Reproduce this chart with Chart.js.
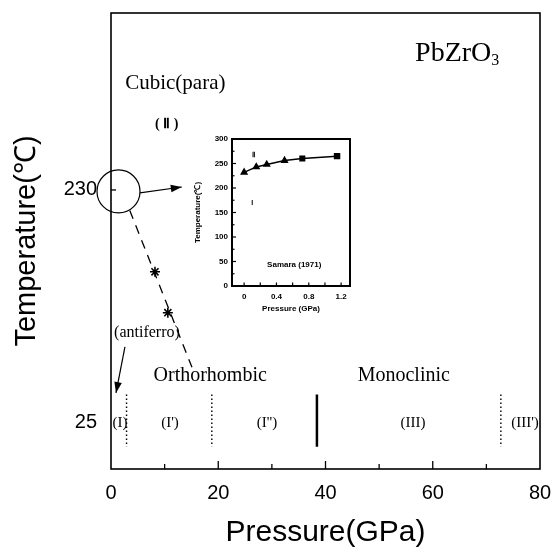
<!DOCTYPE html>
<html><head><meta charset="utf-8">
<script src="https://cdn.jsdelivr.net/npm/chart.js@4/dist/chart.umd.min.js"></script>
<style>
html,body{margin:0;padding:0;background:#fff;}
#wrap{position:relative;width:557px;height:551px;background:#fff;}
#main{position:absolute;left:0;top:0;}
#inset{position:absolute;left:190px;top:130px;}
</style></head><body>
<div id="wrap">
<canvas id="main" width="557" height="551"></canvas>
<canvas id="inset" width="170" height="190"></canvas>
</div>
<script>
// ---------- data ----------
const xTickValues = [0, 20, 40, 60, 80];
const yTickValues = [25, 230];
const boundaryPressures = [2.9, 18.8, 38.4, 72.7];
const boundaryKinds = ['dotted', 'dotted', 'solid', 'dotted'];
const boundaryTemps = [50, 4];
const dashLineP = [3.5, 15.1];
const dashLineT = [212, 74];
const starP = [8.2, 10.6];
const starT = [158, 122];
const circleP = [1.4];
const circleT = [228.7];
const arrowInsetP = [5.4, 13.2];
const arrowInsetT = [227.4, 232.6];
const arrowAntiP = [2.6, 0.93];
const arrowAntiT = [92, 51.4];
const phaseLabels = ['(I)', "(I')", "(I'')", '(III)', "(III')"];
const phaseLabelP = [1.7, 11, 29.1, 56.3, 77.2];
const phaseLabelT = 25;
const regionLabels = ['Cubic(para)', '( \u2161 )', '(antiferro)', 'Orthorhombic', 'Monoclinic'];
const regionLabelP = [12.0, 10.4, 6.7, 18.5, 54.6];
const regionLabelT = [324, 288, 104, 66.4, 66.4];
const titleText = 'PbZrO';
const titleSub = '3';
const titleP = 56.7;
const titleT = 350;

const insetPressure = [0, 0.15, 0.28, 0.5, 0.72, 1.15];
const insetTemp = [232, 243, 248, 256, 260, 265];
const insetYTicks = [0, 50, 100, 150, 200, 250, 300];
const insetXTicks = [0, 0.4, 0.8, 1.2];
const insetLabels = ['\u2161', 'I', 'Samara (1971)'];
const insetLabelP = [0.11, 0.10, 0.62];
const insetLabelT = [267, 169, 43];

// ---------- helpers ----------
const SERIF = '"Liberation Serif", "Times New Roman", serif';
const SANS = '"Liberation Sans", Arial, sans-serif';
const pts = (xs, ys) => xs.map((x, i) => ({x: x, y: ys[i]}));
const noPad = s => { s.paddingTop = 0; s.paddingBottom = 0; s.paddingLeft = 0; s.paddingRight = 0; };

const datasets = [];
boundaryPressures.forEach((p, i) => {
  datasets.push({
    data: pts([p, p], boundaryTemps),
    showLine: true, pointRadius: 0,
    borderColor: '#000',
    borderWidth: boundaryKinds[i] === 'solid' ? 2.5 : 1.4,
    borderDash: boundaryKinds[i] === 'solid' ? [] : [1.5, 2.5]
  });
});
datasets.push({data: pts(dashLineP, dashLineT), showLine: true, pointRadius: 0, borderColor: '#000', borderWidth: 1.3, borderDash: [9, 7]});
datasets.push({data: pts(starP, starT), showLine: false, pointStyle: 'star', pointRadius: 5, borderColor: '#000', borderWidth: 1.6, backgroundColor: '#000'});
datasets.push({data: pts(circleP, circleT), showLine: false, clip: false, pointStyle: 'circle', pointRadius: 21.5, borderColor: '#000', borderWidth: 1.2, backgroundColor: 'rgba(0,0,0,0)'});
datasets.push({data: pts(arrowInsetP, arrowInsetT), showLine: true, pointRadius: 0, borderColor: '#000', borderWidth: 1.2, arrow: true});
datasets.push({data: pts(arrowAntiP, arrowAntiT), showLine: true, pointRadius: 0, borderColor: '#000', borderWidth: 1.2, arrow: true});

const mainDecor = {
  id: 'mainDecor',
  afterDraw(chart) {
    const ctx = chart.ctx, a = chart.chartArea;
    const xs = chart.scales.x, ys = chart.scales.y;
    ctx.save();
    ctx.strokeStyle = '#000'; ctx.fillStyle = '#000';
    ctx.lineWidth = 1.6;
    ctx.strokeRect(a.left, a.top, a.right - a.left, a.bottom - a.top);
    // inward x ticks
    ctx.lineWidth = 1.3;
    for (let v = 10; v < 80; v += 10) {
      const px = xs.getPixelForValue(v);
      const len = v % 20 === 0 ? 8 : 5;
      ctx.beginPath(); ctx.moveTo(px, a.bottom); ctx.lineTo(px, a.bottom - len); ctx.stroke();
    }
    // inward y tick at 230
    const py = ys.getPixelForValue(230);
    ctx.beginPath(); ctx.moveTo(a.left, py); ctx.lineTo(a.left + 5, py); ctx.stroke();
    // arrowheads
    chart.data.datasets.forEach((ds, i) => {
      if (!ds.arrow) return;
      const d = chart.getDatasetMeta(i).data;
      const p1 = d[d.length - 2], p2 = d[d.length - 1];
      const ang = Math.atan2(p2.y - p1.y, p2.x - p1.x);
      const L = 11, W = 3.8;
      ctx.beginPath();
      ctx.moveTo(p2.x, p2.y);
      ctx.lineTo(p2.x - L * Math.cos(ang) + W * Math.sin(ang), p2.y - L * Math.sin(ang) - W * Math.cos(ang));
      ctx.lineTo(p2.x - L * Math.cos(ang) - W * Math.sin(ang), p2.y - L * Math.sin(ang) + W * Math.cos(ang));
      ctx.closePath(); ctx.fill();
    });
    // texts
    ctx.textAlign = 'center'; ctx.textBaseline = 'middle';
    const sizes = [21, 14, 16, 20, 20];
    regionLabels.forEach((t, i) => {
      ctx.font = (i === 1 ? 'bold ' : '') + sizes[i] + 'px ' + SERIF;
      ctx.fillText(t, xs.getPixelForValue(regionLabelP[i]), ys.getPixelForValue(regionLabelT[i]));
    });
    ctx.font = '15px ' + SERIF;
    phaseLabels.forEach((t, i) => {
      ctx.fillText(t, xs.getPixelForValue(phaseLabelP[i]), ys.getPixelForValue(phaseLabelT));
    });
    // title
    ctx.textAlign = 'left';
    ctx.font = '28px ' + SERIF;
    const tx = xs.getPixelForValue(titleP), ty = ys.getPixelForValue(titleT);
    ctx.fillText(titleText, tx, ty);
    const w = ctx.measureText(titleText).width;
    ctx.font = '16px ' + SERIF;
    ctx.fillText(titleSub, tx + w, ty + 7);
    ctx.restore();
  }
};

new Chart(document.getElementById('main'), {
  type: 'scatter',
  data: {datasets: datasets},
  options: {
    responsive: false, animation: false, devicePixelRatio: 1,
    layout: {autoPadding: false, padding: {left: 0, top: 13, right: 17, bottom: 0}},
    plugins: {legend: {display: false}, tooltip: {enabled: false}},
    elements: {line: {tension: 0}},
    scales: {
      x: {
        type: 'linear', min: 0, max: 80,
        afterBuildTicks: s => { s.ticks = xTickValues.map(v => ({value: v})); },
        afterFit: s => { s.height = 82; noPad(s); },
        grid: {display: false, drawTicks: false},
        border: {display: false},
        ticks: {color: '#000', font: {family: SANS, size: 20}, padding: 12, maxRotation: 0, autoSkip: false},
        title: {display: true, text: 'Pressure(GPa)', color: '#000', font: {family: SANS, size: 30}, padding: {top: 0, bottom: 0}}
      },
      y: {
        type: 'linear', min: -15.5, max: 385.7,
        afterBuildTicks: s => { s.ticks = yTickValues.map(v => ({value: v})); },
        afterFit: s => { s.width = 111; noPad(s); },
        grid: {display: false, drawTicks: false},
        border: {display: false},
        ticks: {color: '#000', font: {family: SANS, size: 20}, padding: 14, autoSkip: false},
        title: {display: true, text: 'Temperature(\u2103)', color: '#000', font: {family: SANS, size: 29}, padding: {top: 10, bottom: 0}}
      }
    }
  },
  plugins: [mainDecor]
});

// ---------- inset ----------
const insetDecor = {
  id: 'insetDecor',
  afterDraw(chart) {
    const ctx = chart.ctx, a = chart.chartArea;
    const xs = chart.scales.x, ys = chart.scales.y;
    ctx.save();
    ctx.strokeStyle = '#000'; ctx.fillStyle = '#000';
    ctx.lineWidth = 2;
    ctx.strokeRect(a.left, a.top, a.right - a.left, a.bottom - a.top);
    ctx.lineWidth = 1.2;
    for (let v = 25; v < 300; v += 25) {
      const py = ys.getPixelForValue(v);
      const len = v % 50 === 0 ? 4 : 2.5;
      ctx.beginPath(); ctx.moveTo(a.left, py); ctx.lineTo(a.left + len, py); ctx.stroke();
    }
    for (let k = 0; k <= 6; k++) {
      const px = xs.getPixelForValue(k * 0.2);
      ctx.beginPath(); ctx.moveTo(px, a.bottom); ctx.lineTo(px, a.bottom - 3.5); ctx.stroke();
    }
    ctx.textAlign = 'center'; ctx.textBaseline = 'middle';
    insetLabels.forEach((t, i) => {
      ctx.font = 'bold ' + (i === 2 ? 8 : 7) + 'px ' + SANS;
      ctx.fillText(t, xs.getPixelForValue(insetLabelP[i]), ys.getPixelForValue(insetLabelT[i]));
    });
    ctx.restore();
  }
};

new Chart(document.getElementById('inset'), {
  type: 'scatter',
  data: {datasets: [{
    data: pts(insetPressure, insetTemp),
    showLine: true, borderColor: '#000', borderWidth: 1.5,
    pointStyle: ['triangle', 'triangle', 'triangle', 'triangle', 'rect', 'rect'],
    pointRadius: [3.2, 3.2, 3.2, 3.2, 3.2, 3.5],
    backgroundColor: '#000', pointBorderColor: '#000'
  }]},
  options: {
    responsive: false, animation: false, devicePixelRatio: 1,
    layout: {autoPadding: false, padding: {left: 0, top: 9, right: 10, bottom: 0}},
    plugins: {legend: {display: false}, tooltip: {enabled: false}},
    scales: {
      x: {
        type: 'linear', min: -0.15, max: 1.31,
        afterBuildTicks: s => { s.ticks = insetXTicks.map(v => ({value: v})); },
        afterFit: s => { s.height = 34; noPad(s); },
        grid: {display: false, drawTicks: false}, border: {display: false},
        ticks: {color: '#000', font: {family: SANS, size: 8, weight: 'bold'}, padding: 6, maxRotation: 0, autoSkip: false,
                callback: v => v === 0 ? '0' : Number(v).toFixed(1)},
        title: {display: true, text: 'Pressure (GPa)', color: '#000', font: {family: SANS, size: 8, weight: 'bold'}, padding: {top: 0, bottom: 6}}
      },
      y: {
        type: 'linear', min: 0, max: 300,
        afterBuildTicks: s => { s.ticks = insetYTicks.map(v => ({value: v})); },
        afterFit: s => { s.width = 42; noPad(s); },
        grid: {display: false, drawTicks: false}, border: {display: false},
        ticks: {color: '#000', font: {family: SANS, size: 8, weight: 'bold'}, padding: 4, autoSkip: false},
        title: {display: true, text: 'Temperature(\u2103)', color: '#000', font: {family: SANS, size: 8, weight: 'bold'}, padding: {top: 3, bottom: 0}}
      }
    }
  },
  plugins: [insetDecor]
});
</script>
</body></html>
